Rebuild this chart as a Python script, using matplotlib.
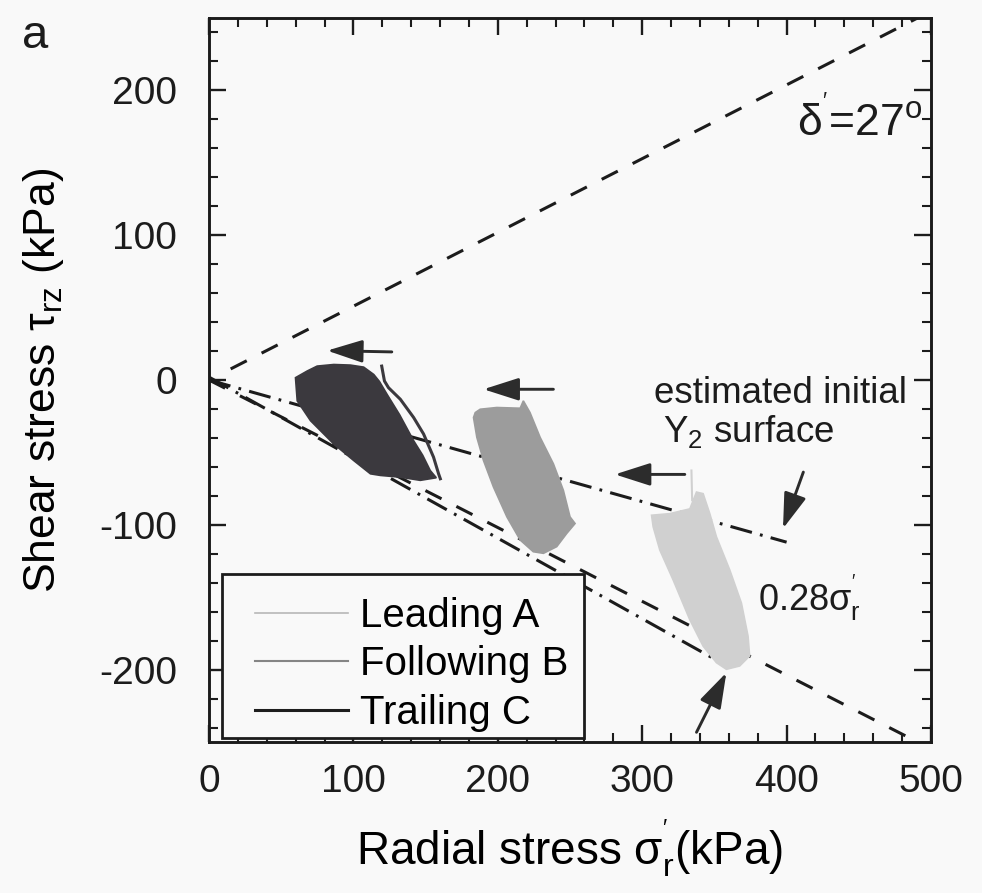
import numpy as np
import matplotlib
matplotlib.use("Agg")
import matplotlib.pyplot as plt
from matplotlib.lines import Line2D
from matplotlib.patches import Rectangle
from matplotlib.ticker import MultipleLocator

plt.rcParams["font.family"] = ["Liberation Sans", "DejaVu Sans"]
plt.rcParams["mathtext.fontset"] = "custom"
plt.rcParams["mathtext.rm"] = "Liberation Sans"
plt.rcParams["mathtext.it"] = "Liberation Sans:italic"
plt.rcParams["mathtext.sf"] = "Liberation Sans"
plt.rcParams["axes.unicode_minus"] = False
plt.rcParams["lines.scale_dashes"] = False

# ---- stress-path clouds (outline of the cyclic paths, sigma_r' vs tau_rz, kPa) ----
trailing_c_sigma = [59.9, 68.0, 74.9, 86.4, 97.9, 107.1, 114.1, 118.0, 123.3, 132.0,
                    141.7, 148.0, 153.2, 157.4, 146.3, 132.5, 118.7, 111.8, 100.2,
                    86.4, 70.3, 61.1]
trailing_c_tau = [1.6, 6.2, 9.6, 10.7, 10.3, 8.9, 3.8, -1.0, -9.9, -24.0,
                  -41.9, -52.0, -62.5, -67.5, -69.3, -67.1, -65.9, -64.8, -55.6,
                  -44.2, -28.1, -14.4]
# outer excursion path of C
trailing_c_edge_sigma = [119.6, 121.5, 124.3, 132.5, 141.7, 148.6, 155.5, 159.0, 160.2]
trailing_c_edge_tau = [9.6, -0.7, -5.3, -13.3, -25.9, -37.3, -53.3, -64.8, -68.2]

following_b_sigma = [184.4, 187.8, 199.3, 215.5, 217.7, 222.3, 229.3, 238.5, 245.4,
                     250.0, 253.5, 247.7, 240.8, 231.6, 224.6, 215.5, 206.3, 197.0,
                     190.1, 185.5, 183.2]
following_b_tau = [-22.5, -20.2, -19.0, -19.5, -14.4, -22.5, -39.6, -57.9, -76.2,
                   -94.5, -99.1, -106.0, -115.1, -119.7, -118.6, -110.5, -94.5, -73.9,
                   -55.6, -39.6, -25.9]

leading_a_sigma = [306.5, 319.1, 333.0, 337.6, 342.2, 346.8, 351.4, 360.6, 368.7,
                   373.3, 374.4, 367.5, 358.3, 351.4, 342.2, 332.9, 321.4, 312.2, 307.6]
leading_a_tau = [-93.4, -92.3, -89.0, -77.4, -78.5, -92.3, -108.3, -131.1, -154.0,
                 -176.9, -190.6, -197.5, -199.8, -195.2, -183.8, -165.4, -138.0, -117.4,
                 -101.4]
leading_a_spike_sigma = [334.1, 334.6]
leading_a_spike_tau = [-62.5, -83.0]

# ---- reference lines ----
delta_deg = 27.0                 # interface friction angle
envelope_sigma = [15.0, 500.0]
y2_coeff = 0.28                  # estimated initial Y2 surface, tau = -0.28 sigma'
y2_sigma = [0.0, 400.0]
lower_sigma = [0.0, 356.0]
lower_tau = [2.0, -196.0]

# ---- annotation arrows (tail -> head) ----
arrow_tails = [(126.6, 19.4), (238.5, -6.4), (329.5, -65.2), (411.6, -63.6), (337.6, -243.3)]
arrow_heads = [(81.8, 20.3), (190.1, -6.4), (281.1, -65.2), (397.5, -102.6), (358.3, -202.1)]

series_labels = ["Leading A", "Following B", "Trailing C"]
series_colors = ["#d0d0d0", "#9c9c9c", "#3b393e"]
legend_colors = ["#b8b8b8", "#858585", "#1e1e1e"]

bg = "#f9f9f9"
fig = plt.figure(figsize=(9.82, 8.93), dpi=100, facecolor=bg)
ax = fig.add_axes([209 / 982, 1 - 742 / 893, 722 / 982, 724 / 893], facecolor=bg)

ink = "#1c1c1c"
lw = 2.2
dash = (0, (13, 12))
dashdot = (0, (16, 6, 2, 6))

# friction envelopes +/- delta'
t = np.tan(np.radians(delta_deg))
es = np.array(envelope_sigma)
ax.plot(es, t * es, color=ink, lw=lw, ls=dash)
ax.plot([0.0, 500.0], [0.0, -t * 500.0], color=ink, lw=lw, ls=dash)

# Y2 surface and lower dash-dot line
ys = np.array(y2_sigma)
ax.plot(ys, -y2_coeff * ys, color=ink, lw=lw, ls=dashdot)
ax.plot(lower_sigma, lower_tau, color=ink, lw=lw, ls=dashdot)

# clouds of stress paths
ax.fill(leading_a_sigma, leading_a_tau, color=series_colors[0], lw=1.2, zorder=3)
ax.plot(leading_a_spike_sigma, leading_a_spike_tau, color=series_colors[0], lw=1.5, zorder=3)
ax.fill(following_b_sigma, following_b_tau, color=series_colors[1], lw=1.2, zorder=3)
ax.fill(trailing_c_sigma, trailing_c_tau, color=series_colors[2], lw=1.2, zorder=3)
ax.plot(trailing_c_edge_sigma, trailing_c_edge_tau, color=series_colors[2], lw=2.2, zorder=3)

# arrows
for tail, head in zip(arrow_tails, arrow_heads):
    ax.annotate("", xy=head, xytext=tail,
                arrowprops=dict(arrowstyle="-|>,head_length=1.5,head_width=0.48",
                                mutation_scale=14.5, lw=2.1, color="#2c2c2c",
                                shrinkA=0, shrinkB=0), zorder=5)

# text annotations
ax.text(407.0, 168.4, r"$\mathregular{\delta^{'}}$=27$\mathregular{^o}$",
        fontsize=32, color=ink, ha="left", va="baseline")
ax.text(308.0, -15.7, "estimated initial", fontsize=26.5, color=ink, ha="left", va="baseline")
ax.text(314.3, -43.0, r"Y$\mathregular{_2}$ surface", fontsize=26.5, color=ink,
        ha="left", va="baseline")
ax.text(380.0, -159.7, r"0.28$\mathregular{\sigma^{'}_r}$", fontsize=26, color=ink,
        ha="left", va="baseline")

# axes
ax.set_xlim(0, 500)
ax.set_ylim(-250, 250)
ax.xaxis.set_major_locator(MultipleLocator(100))
ax.xaxis.set_minor_locator(MultipleLocator(20))
ax.yaxis.set_major_locator(MultipleLocator(100))
ax.yaxis.set_minor_locator(MultipleLocator(20))
ax.tick_params(which="both", direction="in", top=True, right=True, colors=ink)
ax.tick_params(which="major", length=12, width=1.7, labelsize=28)
ax.tick_params(axis="x", which="major", pad=16)
ax.tick_params(axis="y", which="major", pad=23)
ax.tick_params(which="minor", length=6.5, width=1.5)
for s in ax.spines.values():
    s.set_linewidth(2.1)
    s.set_color(ink)

ax.set_xlabel(r"Radial stress $\mathregular{\sigma^{'}_r}$(kPa)", fontsize=33, labelpad=12)
ax.set_ylabel(r"Shear stress $\mathregular{\tau_{rz}}$ (kPa)", fontsize=32, labelpad=24)

# legend: square frame plus entries
ax.add_patch(Rectangle((0.018, 0.0055), 0.501, 0.2265, transform=ax.transAxes,
                       facecolor=bg, edgecolor=ink, lw=2.0, zorder=5.5, clip_on=False))
handles = [Line2D([], [], color=c, lw=w) for c, w in zip(legend_colors, [1.2, 1.5, 2.2])]
leg = ax.legend(handles, series_labels, loc="lower left", bbox_to_anchor=(0.0637, 0.014),
                borderaxespad=0, borderpad=0, frameon=False, fontsize=29,
                handlelength=2.3, handletextpad=0.3, labelspacing=0.26)
leg.set_zorder(6)

fig.text(22 / 982, 1 - 14 / 893, "a", fontsize=34, ha="left", va="top", color=ink)

fig.savefig("out.png", dpi=100, facecolor=bg)
